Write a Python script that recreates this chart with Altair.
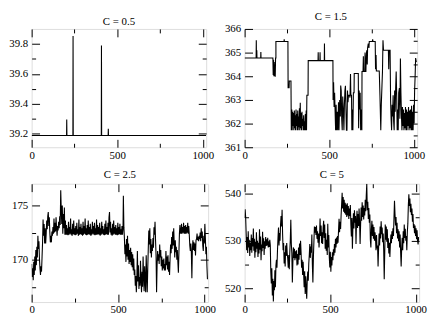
import altair as alt
import pandas as pd

# ---------------- data ----------------
x_ticks = [0, 250, 500, 750, 1000]

c05_ticks = [39.2, 39.3, 39.4, 39.5, 39.6, 39.7, 39.8]
c05 = [(0, 39.189), (204, 39.189), (205, 39.295), (206, 39.189), (241, 39.189), (242, 39.853),
       (243, 39.189), (407, 39.189), (408, 39.79), (409, 39.189), (447, 39.189), (448, 39.234),
       (449, 39.189), (1020, 39.189)]

c15_ticks = [361, 361.5, 362, 362.5, 363, 363.5, 364, 364.5, 365, 365.5, 366]
c15 = [
    (0, 364.77), (68, 364.77), (69, 365.52), (70, 364.77), (72, 365.1), (73, 364.77), (95, 364.77),
    (96, 365.02), (97, 364.77), (167, 364.77), (169, 364.05), (171, 364.7), (173, 364.0), (175, 364.6),
    (177, 364.0), (179, 364.5), (181, 363.98), (183, 364.77), (185, 364.77), (185, 365.47), (233, 365.47),
    (234, 365.56), (235, 365.47), (256, 365.47), (257, 363.52), (263, 363.52), (264, 363.8), (274, 363.8),
    (276, 361.72), (279, 362.6), (281, 361.72), (284, 362.5), (286, 361.9), (289, 362.45), (291, 361.72),
    (294, 362.55), (296, 361.8), (299, 362.35), (301, 361.72), (304, 362.6), (306, 361.9), (309, 362.4),
    (311, 361.72), (314, 362.55), (316, 361.72), (319, 362.3), (321, 361.85), (324, 362.65), (326, 361.72),
    (329, 362.88), (331, 361.8), (334, 362.45), (336, 361.72), (339, 362.5), (341, 361.9), (344, 362.2),
    (346, 361.72), (349, 362.35), (351, 361.72), (354, 362.1), (356, 361.72), (359, 362.4), (361, 361.72),
    (364, 362.55), (366, 361.72), (368, 363.2), (375, 363.2), (376, 364.66), (434, 364.66), (435, 365.01),
    (436, 364.66), (445, 364.66), (446, 365.01), (447, 364.66), (471, 364.66), (472, 365.38), (473, 364.66),
    (522, 364.66), (523, 363.0), (526, 363.75), (529, 362.7), (532, 363.3), (535, 362.5), (538, 361.72),
    (541, 362.8), (544, 361.72), (548, 362.5), (551, 361.72), (555, 362.9), (558, 361.72), (562, 363.0),
    (566, 362.3), (568, 363.61), (571, 363.4), (574, 362.2), (577, 361.72), (580, 363.14), (584, 362.5),
    (587, 361.72), (590, 362.8), (593, 363.4), (596, 363.6), (599, 362.6), (602, 361.72), (605, 361.72),
    (608, 363.4), (611, 362.9), (614, 363.2), (620, 363.2), (623, 363.1), (626, 364.1), (628, 363.2),
    (632, 363.2), (634, 361.72), (637, 362.6), (640, 361.72), (643, 363.3), (647, 363.3), (648, 364.12),
    (672, 364.12), (674, 361.8), (677, 363.4), (680, 362.6), (683, 363.3), (686, 361.72), (689, 362.6),
    (693, 361.72), (694, 364.2), (700, 364.2), (702, 364.85), (703, 364.2), (710, 364.2), (712, 365.0),
    (713, 364.2), (717, 364.2), (719, 364.85), (722, 365.1), (725, 364.5), (727, 365.2), (731, 365.38),
    (735, 365.2), (737, 365.47), (755, 365.47), (757, 365.56), (759, 365.47), (772, 365.47), (774, 364.3),
    (777, 364.9), (779, 364.22), (796, 364.22), (800, 363.2), (805, 361.72), (808, 362.8), (812, 363.6),
    (815, 364.2), (818, 365.52), (821, 365.1), (850, 365.1), (852, 364.3), (854, 365.1), (860, 365.1),
    (863, 363.0), (866, 362.2), (869, 361.72), (872, 362.8), (875, 362.3), (878, 363.2), (881, 362.1),
    (884, 361.72), (887, 363.4), (890, 362.5), (893, 363.5), (896, 364.2), (899, 363.2), (902, 361.72),
    (905, 362.6), (908, 361.72), (911, 363.3), (915, 363.5), (918, 362.2), (921, 364.75), (924, 363.3),
    (927, 362.4), (930, 361.72), (933, 362.7), (936, 361.9), (939, 362.6), (942, 361.72), (945, 362.45),
    (948, 361.8), (951, 362.7), (954, 361.72), (957, 362.6), (960, 361.72), (963, 362.5), (966, 361.9),
    (969, 362.7), (972, 361.72), (975, 362.55), (978, 361.8), (981, 362.6), (984, 361.72), (987, 362.75),
    (990, 361.72), (993, 362.5), (996, 361.72), (999, 362.8), (1002, 362.0), (1005, 363.4), (1008, 364.0),
    (1011, 364.77), (1015, 364.6)]

c25_ticks = [167.5, 170, 172.5, 175]
c25 = [
    (0, 169.6), (3, 168.4), (6, 169.2), (9, 168.1), (12, 169.8), (15, 168.6), (18, 170.3), (21, 169.0),
    (24, 170.9), (27, 169.5), (30, 171.2), (33, 170.2), (36, 172.2), (39, 171.0), (42, 171.7), (45, 170.1),
    (48, 169.2), (51, 168.6), (54, 169.4), (57, 168.9), (60, 170.2), (63, 171.6), (66, 173.7), (69, 172.2),
    (72, 173.3), (75, 171.5), (78, 172.9), (81, 171.5), (84, 172.4), (87, 173.6), (90, 172.8), (93, 174.0),
    (96, 174.4), (99, 173.1), (102, 173.9), (105, 172.5), (108, 171.6), (111, 172.2), (114, 171.6),
    (117, 172.6), (120, 172.2), (123, 173.0), (126, 172.4), (129, 173.8), (132, 172.5), (135, 173.4),
    (138, 172.6), (141, 173.9), (144, 172.9), (147, 172.2), (150, 173.1), (153, 172.7), (156, 173.5),
    (159, 172.9), (162, 174.0), (165, 173.2), (168, 176.4), (171, 174.6), (174, 173.3), (177, 175.0),
    (180, 172.4), (183, 174.2), (186, 172.9), (189, 174.8), (192, 172.3), (195, 173.6), (198, 172.3),
    (201, 173.2), (204, 172.3), (207, 172.9), (210, 172.25), (213, 173.5), (216, 172.3), (219, 173.0),
    (222, 172.4), (225, 173.8), (228, 172.3), (231, 172.8), (234, 172.2), (237, 173.3), (240, 172.35),
    (243, 173.6), (246, 172.3), (249, 172.9), (252, 172.25), (255, 173.1), (258, 172.3), (261, 173.4),
    (264, 172.4), (267, 172.8), (270, 172.2), (273, 173.7), (276, 172.3), (279, 173.0), (282, 172.35),
    (285, 173.3), (288, 172.3), (291, 172.9), (294, 172.2), (297, 173.5), (300, 172.3), (303, 173.1),
    (306, 172.4), (309, 173.8), (312, 172.3), (315, 172.9), (318, 172.25), (321, 173.2), (324, 172.3),
    (327, 173.6), (330, 172.35), (333, 173.0), (336, 172.3), (339, 173.3), (342, 172.2), (345, 172.8),
    (348, 172.3), (351, 173.5), (354, 172.4), (357, 173.1), (360, 172.3), (363, 173.4), (366, 172.25),
    (369, 172.9), (372, 172.3), (375, 173.7), (378, 172.3), (381, 173.2), (384, 172.35), (387, 173.0),
    (390, 172.3), (393, 173.4), (396, 172.2), (399, 172.9), (402, 172.3), (405, 173.5), (408, 172.4),
    (411, 173.1), (414, 172.3), (417, 172.8), (420, 172.25), (423, 173.3), (426, 172.3), (429, 173.6),
    (432, 172.35), (435, 173.0), (438, 172.3), (441, 173.4), (444, 172.3), (447, 173.9), (450, 174.4),
    (453, 172.5), (456, 173.5), (459, 172.3), (462, 172.9), (465, 172.2), (468, 173.3), (471, 172.3),
    (474, 173.6), (477, 172.4), (480, 173.0), (483, 172.3), (486, 173.2), (489, 172.3), (492, 172.9),
    (495, 172.25), (498, 173.4), (501, 172.3), (504, 173.0), (507, 172.35), (510, 173.3), (513, 172.3),
    (516, 172.8), (519, 172.3), (522, 173.1), (525, 172.3), (528, 173.0), (530, 175.9), (533, 173.0),
    (536, 172.0), (539, 170.5), (542, 171.4), (545, 169.8), (548, 171.9), (551, 170.3), (554, 172.2),
    (557, 170.0), (560, 171.5), (563, 169.6), (566, 170.9), (569, 169.8), (572, 171.1), (575, 169.5),
    (578, 170.7), (581, 169.3), (584, 170.5), (587, 169.0), (590, 170.1), (593, 168.6), (596, 169.1),
    (599, 167.6), (602, 168.5), (605, 167.0), (608, 168.2), (611, 170.8), (614, 168.0), (617, 169.5),
    (620, 167.3), (623, 168.4), (626, 167.6), (629, 169.9), (632, 168.2), (635, 167.0), (638, 168.9),
    (641, 167.5), (644, 170.3), (647, 168.5), (650, 167.1), (653, 169.4), (656, 168.0), (659, 167.0),
    (662, 170.4), (665, 168.6), (668, 167.0), (671, 169.2), (674, 171.0), (677, 172.7), (680, 171.4),
    (683, 172.9), (686, 170.6), (689, 171.9), (692, 170.2), (695, 171.4), (698, 170.8), (701, 172.0),
    (704, 171.1), (707, 173.0), (710, 172.3), (713, 173.5), (716, 171.8), (719, 170.4), (722, 167.0),
    (725, 169.5), (728, 170.8), (731, 169.9), (734, 170.5), (737, 169.6), (740, 171.4), (743, 170.2),
    (746, 170.9), (749, 169.4), (752, 170.3), (755, 169.0), (758, 170.0), (761, 169.2), (764, 170.1),
    (767, 169.0), (770, 169.6), (773, 169.0), (776, 170.8), (779, 169.5), (782, 170.3), (785, 169.1),
    (788, 170.4), (791, 168.9), (794, 169.8), (797, 168.6), (800, 170.1), (803, 171.4), (806, 170.6),
    (809, 172.1), (812, 171.0), (815, 172.6), (818, 171.3), (821, 172.9), (824, 171.5), (827, 170.2),
    (830, 171.8), (833, 170.7), (836, 171.2), (839, 170.0), (842, 170.9), (845, 169.8), (848, 168.8),
    (851, 170.6), (854, 172.4), (857, 173.2), (860, 172.5), (863, 172.4), (866, 173.3), (869, 172.4),
    (872, 173.0), (875, 172.5), (878, 173.4), (881, 172.4), (884, 173.1), (887, 172.4), (890, 173.2),
    (893, 172.4), (896, 173.0), (899, 172.5), (902, 173.4), (905, 172.4), (908, 173.1), (911, 172.3),
    (914, 171.3), (917, 170.8), (920, 171.5), (923, 170.6), (926, 168.3), (929, 171.0), (932, 171.8),
    (935, 170.9), (938, 171.6), (941, 170.8), (944, 171.5), (947, 170.4), (950, 171.8), (953, 171.9),
    (956, 172.4), (959, 171.8), (962, 172.1), (965, 171.7), (968, 172.2), (971, 171.9), (974, 172.5),
    (977, 171.7), (980, 172.9), (983, 172.0), (986, 172.6), (989, 171.3), (992, 170.8), (995, 172.2),
    (998, 171.5), (1001, 173.3), (1004, 172.0), (1007, 170.5), (1010, 171.2), (1013, 169.4), (1016, 168.2)]

c5_ticks = [520, 525, 530, 535, 540]
c5 = [
    (0, 534.8), (3, 536.6), (6, 535.0), (9, 531.5), (12, 528.0), (15, 530.8), (18, 527.4), (21, 532.0),
    (24, 528.6), (27, 530.2), (30, 526.8), (33, 529.6), (36, 528.0), (39, 531.3), (42, 527.5), (45, 530.6),
    (48, 528.8), (51, 532.6), (54, 527.9), (57, 530.4), (60, 526.4), (63, 529.8), (66, 527.6), (69, 531.8),
    (72, 528.3), (75, 530.0), (78, 526.6), (81, 529.6), (84, 527.3), (87, 532.4), (90, 528.1), (93, 530.9),
    (96, 525.9), (99, 529.2), (102, 527.8), (105, 531.9), (108, 528.5), (111, 530.5), (114, 527.0),
    (117, 529.9), (120, 528.3), (123, 530.8), (126, 528.9), (129, 530.3), (132, 529.0), (135, 530.6),
    (138, 528.6), (141, 529.9), (144, 528.7), (147, 530.2), (150, 529.1), (153, 523.5), (156, 521.0),
    (159, 524.2), (162, 518.5), (165, 522.0), (168, 517.2), (171, 521.5), (174, 519.6), (177, 523.8),
    (180, 520.2), (183, 524.8), (186, 526.0), (189, 524.3), (192, 527.9), (195, 530.5), (198, 532.8),
    (201, 529.0), (204, 531.6), (207, 530.0), (210, 533.4), (213, 535.2), (216, 533.0), (219, 536.5),
    (222, 531.4), (225, 528.0), (228, 529.5), (231, 525.2), (234, 527.6), (237, 524.6), (240, 529.0),
    (243, 526.8), (246, 529.5), (249, 527.3), (252, 526.2), (255, 524.3), (258, 527.0), (261, 524.0),
    (264, 527.5), (267, 530.2), (270, 534.4), (273, 529.3), (276, 527.4), (279, 521.2), (282, 525.5),
    (285, 528.6), (288, 526.4), (291, 528.3), (294, 525.9), (297, 527.8), (300, 526.3), (303, 528.0),
    (306, 524.8), (309, 527.2), (312, 525.0), (315, 528.6), (318, 526.0), (321, 529.4), (324, 527.0),
    (327, 530.0), (330, 527.5), (333, 524.3), (336, 526.0), (339, 522.8), (342, 525.6), (345, 523.0),
    (348, 520.2), (351, 523.6), (354, 518.8), (357, 522.5), (360, 520.0), (363, 517.8), (366, 521.7),
    (369, 523.5), (372, 521.6), (375, 525.2), (378, 527.0), (381, 529.3), (384, 526.4), (387, 528.8),
    (390, 527.5), (393, 531.3), (396, 525.0), (399, 521.2), (402, 526.5), (405, 529.8), (408, 533.0),
    (411, 531.7), (414, 532.9), (417, 531.2), (420, 533.2), (423, 530.4), (426, 532.0), (429, 529.6),
    (432, 531.5), (435, 528.6), (438, 530.9), (441, 534.7), (444, 531.0), (447, 533.2), (450, 529.5),
    (453, 531.8), (456, 529.3), (459, 532.8), (462, 534.2), (465, 530.6), (468, 533.4), (471, 528.3),
    (474, 531.6), (477, 527.9), (480, 530.2), (483, 527.0), (486, 533.6), (489, 528.6), (492, 531.2),
    (495, 526.5), (498, 524.4), (501, 527.7), (504, 523.5), (507, 526.6), (510, 524.8), (513, 527.6),
    (516, 525.9), (519, 528.2), (522, 526.9), (525, 529.3), (528, 527.5), (531, 530.4), (534, 528.6),
    (537, 530.7), (540, 529.3), (543, 531.0), (546, 529.6), (549, 532.2), (552, 534.6), (555, 531.8),
    (558, 534.0), (561, 532.5), (564, 535.4), (567, 537.6), (570, 540.1), (573, 536.8), (576, 539.2),
    (579, 536.1), (582, 538.6), (585, 535.8), (588, 538.0), (591, 535.5), (594, 537.6), (597, 535.0),
    (600, 537.9), (603, 535.3), (606, 537.3), (609, 534.6), (612, 536.8), (615, 535.2), (618, 537.5),
    (621, 533.4), (624, 530.9), (627, 534.8), (630, 528.3), (633, 533.0), (636, 535.8), (639, 532.6),
    (642, 536.4), (645, 533.8), (648, 535.2), (651, 529.3), (654, 534.0), (657, 536.3), (660, 532.7),
    (663, 535.6), (666, 533.1), (669, 536.8), (672, 534.0), (675, 529.3), (678, 533.5), (681, 537.0),
    (684, 534.2), (687, 538.1), (690, 535.0), (693, 537.4), (696, 534.5), (699, 536.9), (702, 535.3),
    (705, 538.6), (708, 536.2), (711, 539.5), (714, 542.0), (717, 536.4), (720, 538.2), (723, 534.6),
    (726, 536.9), (729, 533.8), (732, 535.5), (735, 530.2), (738, 528.6), (741, 532.4), (744, 534.2),
    (747, 531.0), (750, 533.4), (753, 530.4), (756, 532.9), (759, 530.0), (762, 531.8), (765, 530.5),
    (768, 528.0), (771, 531.2), (774, 528.4), (777, 529.0), (780, 524.6), (783, 528.3), (786, 531.5),
    (789, 529.0), (792, 533.0), (795, 530.5), (798, 534.1), (801, 531.4), (804, 532.8), (807, 529.7),
    (810, 531.5), (813, 528.0), (816, 521.9), (819, 527.5), (822, 533.4), (825, 530.2), (828, 533.0),
    (831, 529.8), (834, 532.4), (837, 528.5), (840, 530.5), (843, 527.3), (846, 529.6), (849, 526.6),
    (852, 529.3), (855, 531.3), (858, 529.5), (861, 532.0), (864, 530.4), (867, 532.6), (870, 531.0),
    (873, 534.8), (876, 538.4), (879, 535.6), (882, 533.2), (885, 535.0), (888, 531.6), (891, 533.8),
    (894, 530.5), (897, 532.4), (900, 529.9), (903, 532.0), (906, 528.6), (909, 531.3), (912, 527.5),
    (915, 524.6), (918, 528.4), (921, 530.6), (924, 528.0), (927, 532.0), (930, 529.5), (933, 533.4),
    (936, 530.6), (939, 532.5), (942, 530.0), (945, 531.0), (948, 528.0), (951, 531.8), (954, 533.6),
    (957, 537.5), (960, 539.8), (963, 537.3), (966, 538.9), (969, 536.0), (972, 537.8), (975, 535.4),
    (978, 536.8), (981, 534.0), (984, 535.6), (987, 532.7), (990, 533.5), (993, 531.6), (996, 533.2),
    (999, 531.0), (1002, 532.6), (1005, 530.3), (1008, 532.2), (1011, 530.0), (1014, 529.2), (1017, 530.8)]

# ---------------- chart ----------------
FONT = "Liberation Serif, Times New Roman, serif"
X_DOMAIN = [0, 1020]
H = 120


def axis(orient, values, major_test, labels, fmt=None, label_expr=None, pad=11):
    kw = dict(orient=orient, values=values, domain=False, grid=False, ticks=True,
              tickColor="black", tickWidth=1,
              tickSize={"condition": {"test": major_test, "value": -8}, "value": -4},
              labels=labels, title=None)
    if labels:
        kw.update(labelFont=FONT, labelFontSize=11, labelColor="black", labelPadding=pad,
                  labelFlush=False, labelOverlap=False, labelExpr=label_expr, format=fmt)
    return alt.Axis(**kw)


def panel(points, title, ydom, yticks, ymajor, yfmt, w, toff):
    df = pd.DataFrame(points, columns=["x", "y"])
    df["i"] = range(len(df))
    xs = alt.Scale(domain=X_DOMAIN, nice=False, zero=False)
    ys = alt.Scale(domain=ydom, nice=False, zero=False)
    xmajor = "datum.value % 500 === 0"
    base = alt.Chart(df)
    line = base.mark_line(color="black", strokeWidth=1.1, clip=True).encode(
        x=alt.X("x:Q", scale=xs, axis=axis("bottom", x_ticks, xmajor, True, "d",
                                              f"{xmajor} ? datum.label : ''", 10)),
        y=alt.Y("y:Q", scale=ys, axis=axis("left", yticks, ymajor, True, yfmt,
                                              f"{ymajor} ? datum.label : ''", 12)),
        order="i:Q",
    )
    mirror = base.mark_line(opacity=0).encode(
        x=alt.X("x:Q", scale=xs, axis=axis("top", x_ticks, xmajor, False)),
        y=alt.Y("y:Q", scale=ys, axis=axis("right", yticks, ymajor, False)),
        order="i:Q",
    )
    return alt.layer(line, mirror).resolve_axis(x="independent", y="independent").properties(
        width=w, height=H,
        title=alt.TitleParams(title, font=FONT, fontSize=11, fontWeight="normal", color="black",
                              offset=toff),
    )


p1 = panel(c05, "C = 0.5", [39.11, 39.9], c05_ticks, "round(datum.value * 10) % 2 === 0", ".1f", 177, 1)
p2 = panel(c15, "C = 1.5", [361, 366], c15_ticks, "round(datum.value * 2) % 2 === 0", "d", 175, 1)
p3 = panel(c25, "C = 2.5", [166.1, 177], c25_ticks, "datum.value % 5 === 0", "d", 179, 3)
p4 = panel(c5, "C = 5", [517.1, 542], c5_ticks, "datum.value % 10 === 0", "d", 177, 3)

chart = alt.vconcat(
    alt.hconcat(p1, p2, spacing=9),
    alt.hconcat(p3, p4, spacing=8),
    spacing=4,
    padding={"left": 0, "top": 0, "right": 0, "bottom": 0},
).configure_view(stroke="black", strokeWidth=1).configure(background="white")

chart.save("out.html", embed_options={"renderer": "svg", "actions": False})
